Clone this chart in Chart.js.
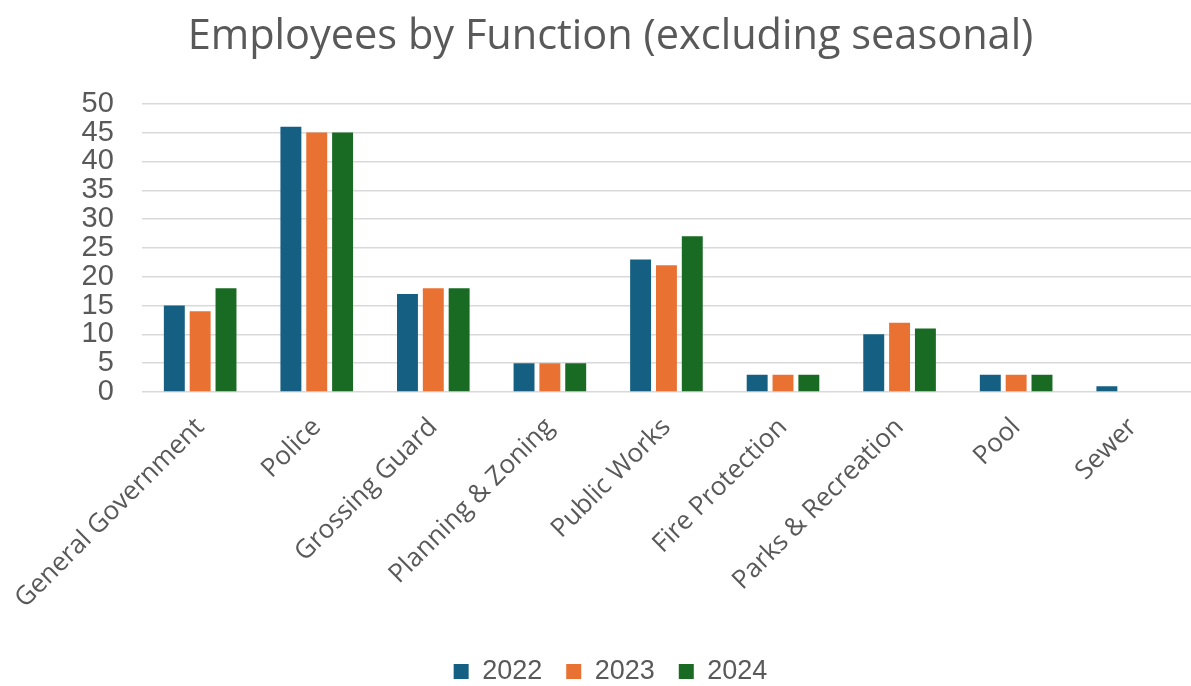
<!DOCTYPE html>
<html>
<head>
<meta charset="utf-8">
<script src="https://cdn.jsdelivr.net/npm/chart.js@4/dist/chart.umd.min.js"></script>
<style>
  html, body { margin: 0; padding: 0; background: #ffffff; overflow: hidden; }
  #wrap { width: 1191px; height: 686px; }
</style>
</head>
<body>
<div id="wrap"><canvas id="c" width="1191" height="686"></canvas></div>
<script>
// Staffing counts per municipal function, by year
const categories = [
  'General Government', 'Police', 'Grossing Guard', 'Planning & Zoning',
  'Public Works', 'Fire Protection', 'Parks & Recreation', 'Pool', 'Sewer'
];
const years = ['2022', '2023', '2024'];
const values2022 = [15, 46, 17, 5, 23, 3, 10, 3, 1];
const values2023 = [14, 45, 18, 5, 22, 3, 12, 3, 0];
const values2024 = [18, 45, 18, 5, 27, 3, 11, 3, 0];
const yTicks = [0, 5, 10, 15, 20, 25, 30, 35, 40, 45, 50];

const colors = ['#156082', '#E97132', '#196B24'];
const textColor = '#595959';

new Chart(document.getElementById('c'), {
  type: 'bar',
  data: {
    labels: categories,
    datasets: [values2022, values2023, values2024].map((vals, i) => ({
      label: years[i],
      data: vals,
      backgroundColor: colors[i],
      borderWidth: 0,
      categoryPercentage: 0.665,
      barPercentage: 0.81
    }))
  },
  options: {
    responsive: false,
    animation: false,
    // the plot runs slightly past the right edge of the canvas
    layout: { padding: { left: 24, right: -6, top: 8, bottom: -9 } },
    plugins: {
      title: {
        display: true,
        text: 'Employees by Function (excluding seasonal)',
        color: textColor,
        font: { family: 'Open Sans', size: 41.5, weight: 'normal' },
        padding: { top: 4, bottom: 42 }
      },
      legend: {
        position: 'bottom',
        labels: {
          color: textColor,
          font: { family: 'Liberation Sans', size: 27 },
          boxWidth: 15,
          boxHeight: 15,
          padding: 24
        }
      },
      tooltip: { enabled: false }
    },
    scales: {
      x: {
        grid: { display: false },
        border: { display: false },
        afterFit: (axis) => { axis.height = 242; },
        ticks: {
          color: textColor,
          font: { family: 'Open Sans', size: 26 },
          maxRotation: 45,
          minRotation: 45,
          autoSkip: false,
          padding: 12
        }
      },
      y: {
        min: 0,
        max: 50,
        afterBuildTicks: (axis) => { axis.ticks = yTicks.map(v => ({ value: v })); },
        afterFit: (axis) => { axis.width = 117; },
        grid: { color: '#d9d9d9', lineWidth: 1.5, drawTicks: false },
        border: { display: false },
        ticks: {
          color: textColor,
          font: { family: 'Liberation Sans', size: 29 },
          autoSkip: false,
          padding: 28
        }
      }
    }
  }
});
</script>
</body>
</html>
